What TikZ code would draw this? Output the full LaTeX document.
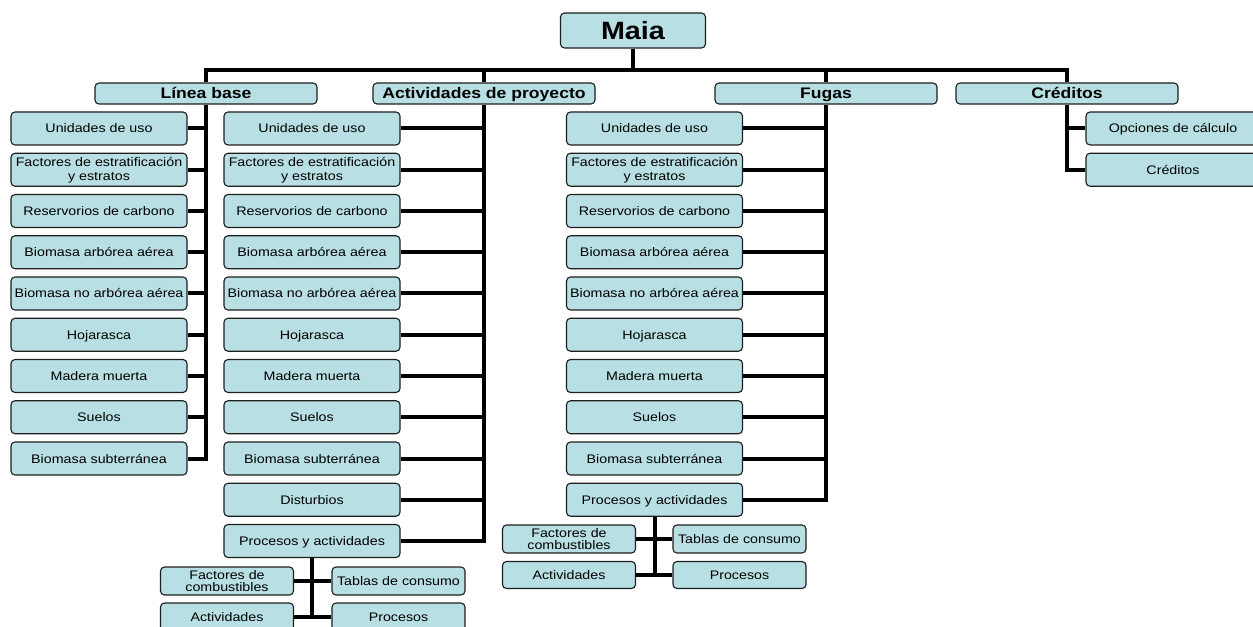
\documentclass[tikz,border=0pt]{standalone}
\usepackage{fontspec}
\setmainfont[FakeStretch=1.15]{Liberation Sans}
\usetikzlibrary{backgrounds}
\definecolor{boxfill}{RGB}{184,223,227}
\definecolor{boxline}{RGB}{30,30,30}
\begin{document}
\begin{tikzpicture}[x=1bp,y=-1bp,
  basebox/.style={draw=boxline, line width=1.1bp, fill=boxfill, rounded corners=4bp, inner sep=0pt, align=center},
  rootbox/.style={basebox, minimum width=145bp, minimum height=35bp, text height=19bp, text depth=1bp, font=\bfseries\fontsize{25bp}{28bp}\selectfont},
  headbox/.style={basebox, minimum width=222bp, minimum height=21bp, text height=12bp, text depth=1bp, font=\bfseries\fontsize{15.3bp}{17bp}\selectfont},
  itembox/.style={basebox, minimum width=176bp, minimum height=33bp, text height=10bp, text depth=1bp, font=\fontsize{12.4bp}{14bp}\selectfont},
  subbox/.style={basebox, minimum width=133bp, minimum height=28bp, text height=10bp, text depth=1bp, font=\fontsize{12.4bp}{12.5bp}\selectfont},
  twoline/.style={text height=, text depth=},
  conn/.style={draw=black, line width=4bp}]
\useasboundingbox (0,0) rectangle (1253,627);

% root and headings
\node[rootbox] (maia) at (633,30.5) {Maia};
\coordinate (bar) at (633,70);
\node[headbox] (LB) at (206,93.5) {Línea base};
\node[headbox] (AP) at (484,93.5) {Actividades de proyecto};
\node[headbox] (FU) at (826,93.5) {Fugas};
\node[headbox] (CR) at (1067,93.5) {Créditos};

% Línea base children
\foreach \t [count=\i] in {Unidades de uso,{Factores de estratificación\\y estratos},Reservorios de carbono,Biomasa arbórea aérea,Biomasa no arbórea aérea,Hojarasca,Madera muerta,Suelos,Biomasa subterránea}
  \node[itembox, /utils/exec={\ifnum\i=2 \tikzset{twoline}\fi}] (lb\i) at (99,{128.5+41.25*(\i-1)}) {\t};

% Actividades de proyecto children
\foreach \t [count=\i] in {Unidades de uso,{Factores de estratificación\\y estratos},Reservorios de carbono,Biomasa arbórea aérea,Biomasa no arbórea aérea,Hojarasca,Madera muerta,Suelos,Biomasa subterránea,Disturbios,Procesos y actividades}
  \node[itembox, /utils/exec={\ifnum\i=2 \tikzset{twoline}\fi}] (ap\i) at (312,{128.5+41.25*(\i-1)}) {\t};

% Fugas children
\foreach \t [count=\i] in {Unidades de uso,{Factores de estratificación\\y estratos},Reservorios de carbono,Biomasa arbórea aérea,Biomasa no arbórea aérea,Hojarasca,Madera muerta,Suelos,Biomasa subterránea,Procesos y actividades}
  \node[itembox, /utils/exec={\ifnum\i=2 \tikzset{twoline}\fi}] (fu\i) at (654.5,{128.5+41.25*(\i-1)}) {\t};

% Créditos children
\node[itembox, minimum width=174bp] (cr1) at (1173,128.5) {Opciones de cálculo};
\node[itembox, minimum width=174bp] (cr2) at (1173,169.75) {Créditos};

% sub boxes under AP Procesos
\node[subbox, twoline] (apfac) at (227,581) {Factores de\\combustibles};
\node[subbox] (aptab) at (398.5,581) {Tablas de consumo};
\node[subbox] (apact) at (227,617) {Actividades};
\node[subbox] (appro) at (398.5,617) {Procesos};

% sub boxes under FU Procesos
\node[subbox, twoline] (fufac) at (569,539) {Factores de\\combustibles};
\node[subbox] (futab) at (739.5,539) {Tablas de consumo};
\node[subbox, minimum height=27bp] (fuact) at (569,575) {Actividades};
\node[subbox, minimum height=27bp] (fupro) at (739.5,575) {Procesos};

\begin{scope}[on background layer]
  \draw[conn] (maia.south) -- (bar);
  \draw[conn] (LB.north) |- (bar) -| (CR.north);
  \draw[conn] (AP.north) -- (AP.north |- bar);
  \draw[conn] (FU.north) -- (FU.north |- bar);

  \draw[conn] (LB.south) |- (lb9.east);
  \foreach \i in {1,...,8} \draw[conn] (lb\i.east) -- (lb\i.east -| LB.south);

  \draw[conn] (AP.south) |- (ap11.east);
  \foreach \i in {1,...,10} \draw[conn] (ap\i.east) -- (ap\i.east -| AP.south);

  \draw[conn] (FU.south) |- (fu10.east);
  \foreach \i in {1,...,9} \draw[conn] (fu\i.east) -- (fu\i.east -| FU.south);

  \draw[conn] (CR.south) |- (cr2.west);
  \draw[conn] (cr1.west) -- (cr1.west -| CR.south);

  \draw[conn] (ap11.south) -- (ap11.south |- apact.east);
  \draw[conn] (apfac.east) -- (aptab.west);
  \draw[conn] (apact.east) -- (appro.west);

  \draw[conn] (fu10.south) -- (fu10.south |- fuact.east);
  \draw[conn] (fufac.east) -- (futab.west);
  \draw[conn] (fuact.east) -- (fupro.west);
\end{scope}
\end{tikzpicture}
\end{document}
